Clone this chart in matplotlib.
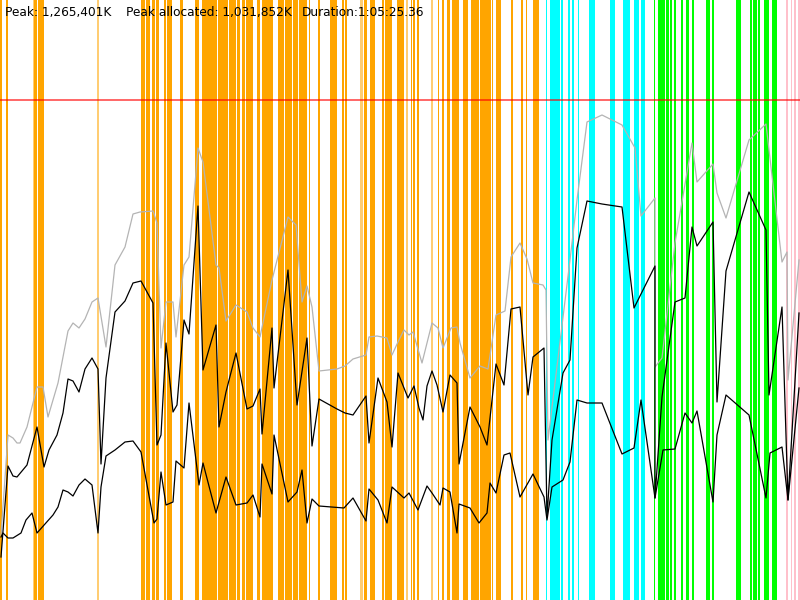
import matplotlib
matplotlib.use("Agg")
import matplotlib.pyplot as plt

# header texts
peak_text = "Peak: 1,265,401K"
alloc_text = "Peak allocated: 1,031,852K"
duration_text = "Duration:1:05:25.36"

# event bands (start, end) on the time axis
orange_bands = [(0, 2), (6, 8), (34, 37), (38, 44), (141, 145), (146, 150), (152, 155),
                (156, 159), (164, 166), (167, 172), (180, 183), (195, 199), (202, 217),
                (218, 228), (228.6, 233), (233, 236), (237, 240), (242, 245), (246, 253),
                (257, 260), (262, 273), (278, 284), (284.6, 292), (293, 298), (299, 307),
                (309, 310), (318, 320), (330, 337), (342, 344), (345, 347), (364, 367),
                (370, 375), (382, 384), (385, 392), (397, 404), (411, 412), (413, 415),
                (417, 419), (438, 439), (442, 444), (447, 450), (452, 459), (463, 468),
                (471, 479), (480, 491), (491.6, 493), (496, 501), (511, 513), (521, 523),
                (526, 527), (533, 539)]
orange_faint = [(33, 34), (97, 99), (360, 363), (406, 408), (431, 433)]
cyan_bands = [(546, 547), (550, 560), (561, 563), (568, 570), (572, 574), (578, 579),
              (589, 595), (610, 615), (623, 630), (634, 639), (641, 645)]
green_bands = [(654, 655), (658, 665), (666, 669), (670, 672), (674, 676), (681, 683),
               (686, 689), (692, 694), (706, 710), (712, 714), (736, 741), (750, 752),
               (753, 757), (758, 760), (764, 769), (772, 777)]
pink_bands = [(786, 788), (791, 792), (794, 796), (798, 800)]

peak_level = 100

# heap size (grey)
grey_x = [1, 8, 13, 17, 20, 27, 37, 43, 48, 58, 68, 73, 79, 85, 92, 98, 106, 115, 125, 133,
          140, 153, 157, 161, 166, 173, 176, 184, 189, 198, 203, 216, 219, 226, 236, 247, 253,
          260, 272, 288, 296, 302, 307, 312, 319, 337, 345, 353, 366, 369, 377, 387, 392, 398,
          404, 409, 413, 422, 432, 438, 443, 451, 457, 460, 470, 480, 488, 496, 505, 511, 520,
          527, 533, 543, 546, 548, 570, 577, 587, 602, 622, 635, 641, 655, 655, 662, 675, 692,
          697, 713, 717, 726, 749, 766, 782, 787, 788, 799]
grey_y = [535, 435, 438, 443, 443, 427, 387, 387, 417, 383, 331, 323, 328, 319, 302, 298, 347,
          265, 247, 214, 212, 211, 223, 348, 302, 302, 337, 265, 257, 148, 162, 265, 268, 321,
          305, 312, 328, 337, 280, 217, 225, 302, 286, 307, 371, 369, 366, 359, 355, 337, 336,
          338, 355, 342, 330, 335, 332, 363, 323, 328, 348, 328, 327, 343, 378, 366, 369, 315,
          311, 257, 243, 259, 283, 285, 290, 440, 260, 200, 122, 115, 125, 148, 216, 198, 367,
          358, 243, 143, 182, 164, 193, 218, 140, 124, 262, 252, 380, 260]

# used heap (black, upper)
used_x = [1, 8, 13, 17, 27, 37, 44, 49, 57, 63, 68, 73, 79, 85, 92, 98, 101, 106, 115, 125,
          133, 141, 153, 157, 161, 166, 173, 177, 184, 189, 198, 203, 216, 219, 226, 236, 247,
          253, 260, 262, 272, 274, 288, 297, 307, 312, 319, 337, 345, 353, 366, 369, 378, 387,
          392, 398, 408, 414, 419, 423, 427, 432, 437, 443, 450, 457, 459, 470, 480, 487, 496,
          504, 511, 520, 528, 533, 544, 547, 552, 563, 570, 577, 587, 602, 622, 634, 655, 655,
          662, 675, 685, 692, 697, 713, 717, 726, 749, 766, 769, 782, 788, 799]
used_y = [557, 466, 476, 477, 465, 427, 467, 450, 435, 413, 379, 381, 392, 369, 358, 369, 464,
          378, 312, 301, 283, 281, 303, 445, 435, 343, 412, 405, 320, 334, 206, 370, 325, 427,
          392, 353, 409, 406, 389, 434, 328, 388, 270, 405, 338, 446, 399, 409, 413, 415, 396,
          443, 378, 402, 447, 373, 398, 386, 408, 420, 386, 371, 385, 412, 375, 383, 464, 407,
          427, 445, 364, 385, 309, 307, 395, 357, 348, 517, 440, 373, 360, 248, 201, 204, 207,
          308, 266, 498, 397, 302, 298, 227, 246, 222, 402, 271, 192, 230, 395, 307, 500, 313]

# live data (black, lower)
live_x = [1, 3, 8, 13, 21, 26, 32, 37, 53, 58, 63, 68, 73, 79, 85, 92, 98, 101, 106, 115,
          125, 133, 141, 154, 157, 161, 166, 173, 176, 184, 189, 199, 203, 216, 226, 236, 247,
          253, 260, 262, 272, 274, 288, 297, 302, 307, 312, 319, 344, 353, 366, 369, 378, 387,
          392, 404, 409, 418, 427, 432, 440, 443, 450, 457, 459, 470, 479, 487, 490, 496, 504,
          510, 520, 533, 544, 547, 552, 563, 570, 577, 587, 602, 622, 634, 641, 655, 663, 675,
          685, 692, 697, 713, 717, 726, 749, 766, 770, 782, 788, 799]
live_y = [537, 533, 538, 538, 533, 520, 513, 533, 515, 507, 490, 492, 496, 485, 479, 485, 533,
          487, 456, 450, 442, 441, 452, 523, 519, 472, 505, 502, 461, 468, 403, 485, 463, 513,
          477, 505, 503, 495, 517, 464, 494, 435, 502, 492, 470, 523, 499, 506, 508, 498, 521,
          489, 500, 523, 487, 498, 493, 510, 486, 493, 505, 488, 492, 533, 504, 508, 523, 513,
          483, 493, 455, 453, 497, 474, 497, 520, 487, 480, 462, 400, 403, 403, 454, 448, 400,
          498, 450, 449, 413, 423, 411, 502, 435, 395, 415, 498, 453, 447, 500, 388]

fig = plt.figure(figsize=(8, 6), dpi=100)
ax = fig.add_axes([0, 0, 1, 1])
ax.set_xlim(0, 800)
ax.set_ylim(600, 0)
ax.axis("off")

for a, b in orange_bands:
    ax.axvspan(a, b, color="#ffa500", lw=0)
for a, b in orange_faint:
    ax.axvspan(a, b, color="#ffa500", alpha=0.55, lw=0)
for a, b in cyan_bands:
    ax.axvspan(a, b, color="#00ffff", lw=0)
for a, b in green_bands:
    ax.axvspan(a, b, color="#00ff00", lw=0)
for a, b in pink_bands:
    ax.axvspan(a, b, color="#ffc0cb", lw=0)

ax.axhline(peak_level, color="red", alpha=0.6, lw=1.4)

ax.plot(grey_x, grey_y, color="#b4b4b4", lw=0.9)
ax.plot(used_x, used_y, color="black", lw=0.9)
ax.plot(live_x, live_y, color="black", lw=0.9)

ax.text(5, 12.5, peak_text, fontsize=8.7, va="center", ha="left")
ax.text(126, 12.5, alloc_text, fontsize=8.7, va="center", ha="left")
ax.text(302, 12.5, duration_text, fontsize=8.7, va="center", ha="left")

fig.savefig("out.png", dpi=100)
